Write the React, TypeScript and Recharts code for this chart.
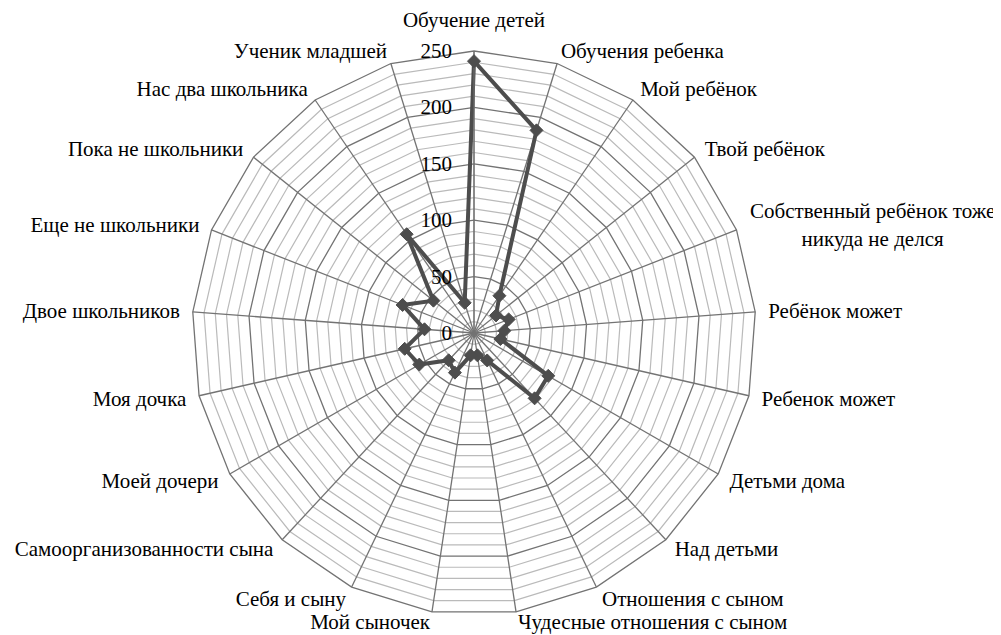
import React from 'react';
import { RadarChart, Radar, PolarGrid, PolarAngleAxis, PolarRadiusAxis } from 'recharts';

const categories = [
  'Обучение детей',
  'Обучения ребенка',
  'Мой ребёнок',
  'Твой ребёнок',
  'Собственный ребёнок тоже никуда не делся',
  'Ребёнок может',
  'Ребенок может',
  'Детьми дома',
  'Над детьми',
  'Отношения с сыном',
  'Чудесные отношения с сыном',
  'Мой сыночек',
  'Себя и сыну',
  'Самоорганизованности сына',
  'Моей дочери',
  'Моя дочка',
  'Двое школьников',
  'Еще не школьники',
  'Пока не школьники',
  'Нас два школьника',
  'Ученик младшей',
];

const values = [241, 188, 40, 25, 33, 27, 24, 76, 79, 27, 20, 20, 39, 33, 56, 63, 44, 68, 46, 106, 28];

const majorTicks = [0, 50, 100, 150, 200, 250];
const minorTicks = [10, 20, 30, 40, 60, 70, 80, 90, 110, 120, 130, 140, 160, 170, 180, 190, 210, 220, 230, 240];

// two-line wrap for the long label, like the original
const wrapped: Record<string, string[]> = {
  'Собственный ребёнок тоже никуда не делся': ['Собственный ребёнок тоже', 'никуда не делся'],
};

const data = categories.map((name, i) => ({ name, value: values[i] }));

const FONT = 'Liberation Serif';
const FS = 21;
const CX = 466;
const CY = 325;
const R = 282;
const MAX = 250;
const toR = (v: number) => (v / MAX) * R;

const AngleTick = ({ x, y, payload }: any) => {
  const dx = x - CX;
  const anchor = Math.abs(dx) < 2 ? 'middle' : dx > 0 ? 'start' : 'end';
  const lines = wrapped[payload.value];
  if (lines) {
    return (
      <text x={x + 124} y={y - 14} textAnchor="middle" style={{ fontFamily: FONT, fontSize: FS }} fill="#000" dominantBaseline="central">
        <tspan x={x + 124} dy={0}>{lines[0]}</tspan>
        <tspan x={x + 124} dy={28}>{lines[1]}</tspan>
      </text>
    );
  }
  let yy = y;
  if (anchor === 'middle' && y < CY) yy = y - 18;
  if (y > CY + 270) yy = y - 3;
  return (
    <text x={x} y={yy} textAnchor={anchor} style={{ fontFamily: FONT, fontSize: FS }} fill="#000" dominantBaseline="central">
      {payload.value}
    </text>
  );
};

const RadiusTick = ({ x, y, payload }: any) => (
  <text x={x - 22} y={y} textAnchor="end" style={{ fontFamily: FONT, fontSize: FS }} fill="#000" dominantBaseline="central">
    {payload.value}
  </text>
);

const Diamond = ({ cx, cy }: any) => (
  <polygon
    points={`${cx},${cy - 6.5} ${cx + 6.5},${cy} ${cx},${cy + 6.5} ${cx - 6.5},${cy}`}
    fill="#4d4d4d"
    stroke="#4d4d4d"
  />
);

export default function App() {
  return (
    <div style={{ width: 993, height: 627, background: '#fff' }}>
      <RadarChart width={993} height={627} data={data} cx={CX} cy={CY} outerRadius={R} margin={{ top: 0, right: 0, bottom: 0, left: 0 }}>
        <PolarGrid gridType="polygon" radialLines={false} polarRadius={minorTicks.map(toR)} stroke="#bababa" strokeWidth={1.2} />
        <PolarGrid gridType="polygon" polarRadius={majorTicks.map(toR)} stroke="#737373" strokeWidth={1.3} />
        <PolarAngleAxis dataKey="name" tick={<AngleTick />} tickLine={false} axisLine={false} tickSize={13} />
        <PolarRadiusAxis
          angle={90}
          domain={[0, MAX]}
          ticks={majorTicks}
          tickCount={6}
          tick={<RadiusTick />}
          axisLine={{ stroke: '#737373' }}
          tickLine={false}
        />
        <Radar
          dataKey="value"
          stroke="#4d4d4d"
          strokeWidth={4}
          fill="none"
          fillOpacity={0}
          dot={<Diamond />}
          isAnimationActive={false}
        />
      </RadarChart>
    </div>
  );
}
